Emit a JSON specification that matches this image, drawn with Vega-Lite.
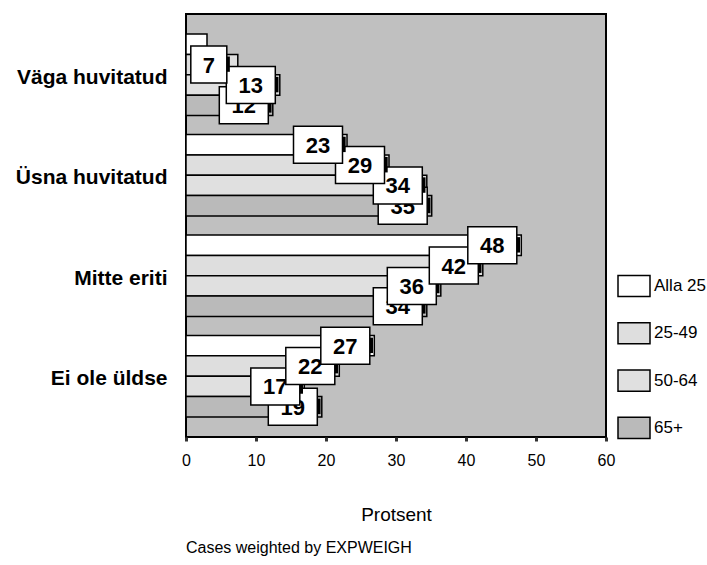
{
  "$schema": "https://vega.github.io/schema/vega-lite/v6.json",
  "width": 420,
  "height": 423,
  "autosize": "none",
  "padding": {"left": 186, "top": 14, "right": 101, "bottom": 128},
  "background": "white",
  "config": {
    "font": "Liberation Sans",
    "view": {"fill": "#c0c0c0", "stroke": "#000000", "strokeWidth": 2}
  },
  "title": {
    "text": "Cases weighted by EXPWEIGH",
    "orient": "bottom",
    "anchor": "start",
    "frame": "group",
    "fontSize": 16,
    "fontWeight": "normal",
    "color": "#000000",
    "offset": 16
  },
  "data": {
    "values": [
      {"cat": "Väga huvitatud", "grp": "Alla 25", "pct": 3.0},
      {"cat": "Väga huvitatud", "grp": "25-49", "pct": 7.4},
      {"cat": "Väga huvitatud", "grp": "50-64", "pct": 13.4},
      {"cat": "Väga huvitatud", "grp": "65+", "pct": 12.4},
      {"cat": "Üsna huvitatud", "grp": "Alla 25", "pct": 23.0},
      {"cat": "Üsna huvitatud", "grp": "25-49", "pct": 29.0},
      {"cat": "Üsna huvitatud", "grp": "50-64", "pct": 34.4},
      {"cat": "Üsna huvitatud", "grp": "65+", "pct": 35.1},
      {"cat": "Mitte eriti", "grp": "Alla 25", "pct": 47.9},
      {"cat": "Mitte eriti", "grp": "25-49", "pct": 42.4},
      {"cat": "Mitte eriti", "grp": "50-64", "pct": 36.4},
      {"cat": "Mitte eriti", "grp": "65+", "pct": 34.4},
      {"cat": "Ei ole üldse", "grp": "Alla 25", "pct": 26.9},
      {"cat": "Ei ole üldse", "grp": "25-49", "pct": 21.9},
      {"cat": "Ei ole üldse", "grp": "50-64", "pct": 16.9},
      {"cat": "Ei ole üldse", "grp": "65+", "pct": 19.4}
    ]
  },
  "encoding": {
    "y": {
      "field": "cat",
      "type": "nominal",
      "sort": ["Väga huvitatud", "Üsna huvitatud", "Mitte eriti", "Ei ole üldse"],
      "scale": {"paddingInner": 0.19, "paddingOuter": 0.2},
      "axis": {
        "title": null,
        "domain": false,
        "ticks": false,
        "labelFontSize": 21,
        "labelFontWeight": "bold",
        "labelColor": "#000000",
        "labelPadding": 19,
        "labelOffset": 3,
        "labelLimit": 300
      }
    },
    "yOffset": {
      "field": "grp",
      "type": "nominal",
      "sort": ["Alla 25", "25-49", "50-64", "65+"],
      "scale": {"paddingInner": 0, "paddingOuter": 0}
    },
    "x": {
      "field": "pct",
      "type": "quantitative",
      "scale": {"domain": [0, 60], "nice": false},
      "axis": {
        "title": "Protsent",
        "titleFontSize": 19,
        "titleFontWeight": "normal",
        "titleColor": "#000000",
        "titlePadding": 37,
        "values": [0, 10, 20, 30, 40, 50, 60],
        "grid": false,
        "domain": false,
        "tickColor": "#333333",
        "tickSize": 4,
        "tickWidth": 3,
        "labelFontSize": 16,
        "labelColor": "#000000",
        "labelPadding": 11,
        "labelFlush": false
      }
    }
  },
  "layer": [
    {
      "mark": {"type": "bar", "stroke": "#000000", "strokeWidth": 1.5},
      "encoding": {
        "color": {
          "field": "grp",
          "type": "nominal",
          "sort": ["Alla 25", "25-49", "50-64", "65+"],
          "scale": {"domain": ["Alla 25", "25-49", "50-64", "65+"], "range": ["#ffffff", "#dedede", "#e0e0e0", "#bababa"]},
          "legend": {
            "title": null,
            "orient": "none",
            "legendX": 431,
            "legendY": 255,
            "padding": 0,
            "symbolType": "M -1 -0.66 L 1 -0.66 L 1 0.66 L -1 0.66 Z",
            "symbolSize": 1024,
            "symbolStrokeColor": "#000000",
            "symbolStrokeWidth": 1.5,
            "symbolOpacity": 1,
            "labelFontSize": 17,
            "labelColor": "#000000",
            "labelOffset": 3,
            "labelLimit": 100,
            "rowPadding": 16.3
          }
        }
      }
    },
    {
      "transform": [{"filter": "datum.grp == '65+'"}],
      "layer": [
        {"mark": {"type": "point", "filled": true, "color": "#000000", "xOffset": -29, "shape": "M 1 -0.33 L 1.13 -0.33 L 1.13 0.3 L 1 0.3 Z", "size": 2401, "opacity": 1}},
        {"mark": {"type": "point", "filled": true, "fill": "#ffffff", "stroke": "#000000", "strokeWidth": 1.5, "xOffset": -29, "shape": "M -1 -0.755 L 1 -0.755 L 1 0.755 L -1 0.755 Z", "size": 2401, "opacity": 1}},
        {"mark": {"type": "text", "xOffset": -29, "dy": 1, "fontSize": 22, "fontWeight": "bold", "color": "#000000", "align": "center", "baseline": "middle"}, "encoding": {"text": {"field": "pct", "type": "quantitative", "format": ".0f"}}}
      ]
    },
    {
      "transform": [{"filter": "datum.grp == '50-64'"}],
      "layer": [
        {"mark": {"type": "point", "filled": true, "color": "#000000", "xOffset": -29, "shape": "M 1 -0.33 L 1.13 -0.33 L 1.13 0.3 L 1 0.3 Z", "size": 2401, "opacity": 1}},
        {"mark": {"type": "point", "filled": true, "fill": "#ffffff", "stroke": "#000000", "strokeWidth": 1.5, "xOffset": -29, "shape": "M -1 -0.755 L 1 -0.755 L 1 0.755 L -1 0.755 Z", "size": 2401, "opacity": 1}},
        {"mark": {"type": "text", "xOffset": -29, "dy": 1, "fontSize": 22, "fontWeight": "bold", "color": "#000000", "align": "center", "baseline": "middle"}, "encoding": {"text": {"field": "pct", "type": "quantitative", "format": ".0f"}}}
      ]
    },
    {
      "transform": [{"filter": "datum.grp == '25-49'"}],
      "layer": [
        {"mark": {"type": "point", "filled": true, "color": "#000000", "xOffset": -29, "opacity": 1},
         "encoding": {
           "shape": {"condition": {"test": "datum.pct < 10", "value": "M 1 -0.45 L 1.17 -0.45 L 1.17 0.4 L 1 0.4 Z"}, "value": "M 1 -0.33 L 1.13 -0.33 L 1.13 0.3 L 1 0.3 Z"},
           "size": {"condition": {"test": "datum.pct < 10", "value": 1296}, "value": 2401}
         }},
        {"mark": {"type": "point", "filled": true, "fill": "#ffffff", "stroke": "#000000", "strokeWidth": 1.5, "xOffset": -29, "opacity": 1},
         "encoding": {
           "shape": {"condition": {"test": "datum.pct < 10", "value": "M -1 -1.028 L 1 -1.028 L 1 1.028 L -1 1.028 Z"}, "value": "M -1 -0.755 L 1 -0.755 L 1 0.755 L -1 0.755 Z"},
           "size": {"condition": {"test": "datum.pct < 10", "value": 1296}, "value": 2401}
         }},
        {"mark": {"type": "text", "xOffset": -29, "dy": 1, "fontSize": 22, "fontWeight": "bold", "color": "#000000", "align": "center", "baseline": "middle"}, "encoding": {"text": {"field": "pct", "type": "quantitative", "format": ".0f"}}}
      ]
    },
    {
      "transform": [{"filter": "datum.grp == 'Alla 25' && datum.pct >= 5"}],
      "layer": [
        {"mark": {"type": "point", "filled": true, "color": "#000000", "xOffset": -29, "shape": "M 1 -0.33 L 1.13 -0.33 L 1.13 0.3 L 1 0.3 Z", "size": 2401, "opacity": 1}},
        {"mark": {"type": "point", "filled": true, "fill": "#ffffff", "stroke": "#000000", "strokeWidth": 1.5, "xOffset": -29, "shape": "M -1 -0.755 L 1 -0.755 L 1 0.755 L -1 0.755 Z", "size": 2401, "opacity": 1}},
        {"mark": {"type": "text", "xOffset": -29, "dy": 1, "fontSize": 22, "fontWeight": "bold", "color": "#000000", "align": "center", "baseline": "middle"}, "encoding": {"text": {"field": "pct", "type": "quantitative", "format": ".0f"}}}
      ]
    }
  ]
}
